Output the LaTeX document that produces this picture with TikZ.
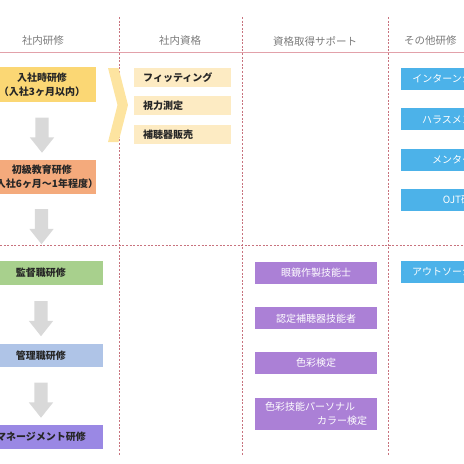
\documentclass[tikz,border=0pt]{standalone}
\usepackage{fontspec}
\setmainfont{Noto Sans CJK JP}
\usetikzlibrary{positioning,shapes.arrows}
\definecolor{headGray}{HTML}{7A7A7A}
\definecolor{ruleRed}{HTML}{C8737E}
\definecolor{rulePink}{HTML}{E2A1AA}
\definecolor{stepGold}{HTML}{FBD774}
\definecolor{stepSalmon}{HTML}{F4AA7C}
\definecolor{stepGreen}{HTML}{A8D08D}
\definecolor{stepBlue}{HTML}{AFC4E7}
\definecolor{stepViolet}{HTML}{9A88E4}
\definecolor{chevYellow}{HTML}{FDE4A0}
\definecolor{qualCream}{HTML}{FDEBC3}
\definecolor{supPurple}{HTML}{AB80D6}
\definecolor{otherBlue}{HTML}{4CB2E9}
\definecolor{arrowGray}{HTML}{D9D9D9}

\begin{document}
\begin{tikzpicture}[x=1pt,y=-1pt,every node/.style={font=\fontsize{10}{14}\selectfont,inner sep=0pt}]
      \tikzstyle{stage}=[fill=stepGold,text width=108pt,align=center,
                         font=\fontsize{10}{14}\selectfont\bfseries,text=black!85]
      \tikzstyle{qual}=[fill=qualCream,minimum height=19pt,text width=79pt,inner xsep=9pt,
                        align=left,anchor=west,font=\fontsize{10}{14}\selectfont\bfseries,text=black!85]
      \tikzstyle{support}=[fill=supPurple,minimum height=22pt,minimum width=122pt,text=white]
      \tikzstyle{other}=[fill=otherBlue,minimum height=22pt,minimum width=122pt,text=white]
      \tikzstyle{flow}=[single arrow,shape border rotate=270,fill=arrowGray,minimum height=35pt,
                        inner sep=6.5pt,single arrow head extend=5.5pt,single arrow tip angle=77,
                        single arrow head indent=0pt]
      \tikzstyle{colhead}=[text=headGray,font=\fontsize{10.5}{14}\selectfont]
      \tikzstyle{divider}=[ruleRed,line width=0.6pt,dash pattern=on 2pt off 1.6pt]

      \useasboundingbox (0,0) rectangle (464,464);
      \clip (0,0) rectangle (464,464);

      % column heads and rules
      \node[colhead] (h1) at (43,41) {社内研修};
      \node[colhead] (h2) at (180,41) {社内資格};
      \node[colhead] (h3) at (315,41) {資格取得サポート};
      \node[colhead,anchor=west] (h4) at (404,41) {その他研修};
      \draw[rulePink,line width=0.8pt] (0,52) -- (464,52);
      \draw[divider] (0,245) -- (464,245);
      \foreach \x in {119.5,242,388}
        \draw[divider] (\x,17) -- (\x,455);

      % in-house training
      \node[stage,minimum height=35pt] (intro) at (42,84.5) {入社時研修\\（入社3ヶ月以内）};
      \node[stage,fill=stepSalmon,minimum height=34pt] (basic) at (42,177) {初級教育研修\\\hspace*{-10pt}（入社6ヶ月～1年程度）\hspace*{-10pt}};
      \node[stage,fill=stepGreen,text width=124pt,minimum height=24pt] (super) at (41,273) {監督職研修};
      \node[stage,fill=stepBlue,text width=124pt,minimum height=23pt] (mgr) at (41,355.5) {管理職研修};
      \node[stage,fill=stepViolet,text width=124pt,minimum height=24pt] (mgmt) at (41,437) {マネージメント研修};

      \path (intro) -- (basic) node[flow,pos=0.5] (a1) {};
      \path (basic) -- (super) node[flow,pos=0.425] (a2) {};
      \path (super) -- (mgr) node[flow,pos=0.5] (a3) {};
      \path (mgr) -- (mgmt) node[flow,pos=0.5] (a4) {};

      % in-house qualifications
      \fill[chevYellow] (108,68) -- (118.5,68) -- (128,105) -- (118.5,142) -- (108,142) -- (117.5,105) -- cycle;
      \node[qual] (fit) at (134,77.5) {フィッティング};
      \node[qual,below=9pt of fit.south west,anchor=north west] (vis) {視力測定};
      \node[qual,below=9pt of vis.south west,anchor=north west] (sale) {補聴器販売};

      % qualification support
      \node[support] (optic) at (316,273) {眼鏡作製技能士};
      \node[support,below=23pt of optic] (aid) {認定補聴器技能者};
      \node[support,below=22pt of aid] (color) {色彩検定};
      \node[support,below=24pt of color,minimum height=32pt,text width=102pt,inner xsep=10pt,align=left]
        (pcolor) {色彩技能パーソナル\\\hspace*{0pt plus 1filll}カラー検定};

      % other training
      \node[other] (intern) at (462,79) {インターンシップ研修};
      \node[other,below=18pt of intern] (harass) {ハラスメント研修};
      \node[other,below=18pt of harass] (mentor) {メンター研修};
      \node[other,below=18pt of mentor] (ojt) {OJT研修};
      \node[other] (outsrc) at (462,272) {アウトソーシング研修};
    \end{tikzpicture}
\end{document}
